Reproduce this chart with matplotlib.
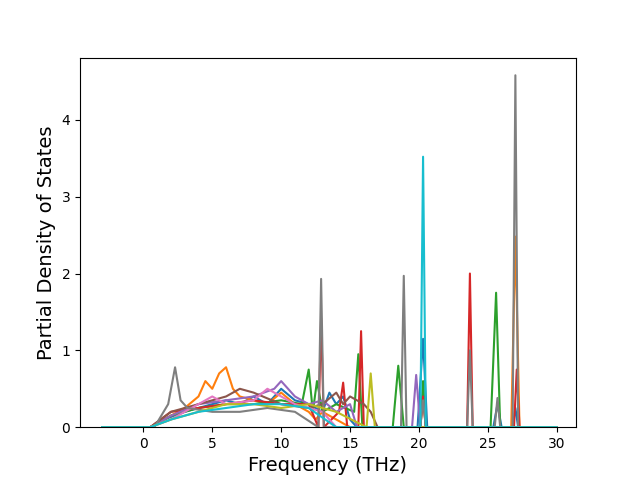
import matplotlib
matplotlib.use("Agg")
import matplotlib.pyplot as plt

# Each series: frequency points and PDOS values
s_blue_x = [-3, 0.5, 1.5, 3, 4, 5, 6, 7, 8, 9, 10, 11, 12, 13, 13.5, 14, 14.5, 15, 15.5, 19.9, 20.3, 20.6, 25.4, 25.7, 26.0, 26.8, 27.0, 27.2, 30]
s_blue_y = [0, 0, 0.1, 0.2, 0.25, 0.3, 0.35, 0.3, 0.4, 0.3, 0.5, 0.35, 0.3, 0.2, 0.45, 0.3, 0.4, 0.1, 0, 0, 1.15, 0, 0, 0.3, 0, 0, 0.25, 0, 0]
s_orange_x = [-3, 0.5, 1.5, 3, 4, 4.5, 5, 5.5, 6, 6.5, 7, 8, 9, 10, 11, 12, 12.5, 13, 15, 20.1, 20.3, 20.5, 26.7, 27.0, 27.3, 30]
s_orange_y = [0, 0, 0.1, 0.25, 0.4, 0.6, 0.5, 0.7, 0.78, 0.5, 0.4, 0.35, 0.3, 0.45, 0.3, 0.2, 0.1, 0.2, 0, 0, 0.4, 0, 0, 2.48, 0, 0]
s_green_x = [-3, 0.5, 2, 4, 6, 8, 10, 11.5, 12.0, 12.3, 12.6, 13, 14, 15.3, 15.6, 15.9, 18.1, 18.5, 18.9, 20.1, 20.3, 20.5, 25.2, 25.6, 25.9, 30]
s_green_y = [0, 0, 0.15, 0.25, 0.3, 0.3, 0.35, 0.3, 0.75, 0.2, 0.6, 0.2, 0.3, 0.2, 0.95, 0, 0, 0.8, 0, 0, 0.6, 0, 0, 1.75, 0, 0]
s_red_x = [-3, 0.5, 2, 4, 6, 8, 10, 12, 12.7, 12.9, 13.1, 14.2, 14.5, 14.8, 15.6, 15.8, 16.0, 20.1, 20.3, 20.5, 23.5, 23.7, 23.9, 26.9, 27.1, 27.3, 30]
s_red_y = [0, 0, 0.2, 0.25, 0.3, 0.35, 0.3, 0.3, 0, 1.42, 0, 0.2, 0.58, 0, 0, 1.25, 0, 0, 0.4, 0, 0, 2.0, 0, 0, 0.75, 0, 0]
s_purple_x = [-3, 0.5, 2, 4, 6, 8, 9.5, 10, 11, 12, 13, 14, 15, 15.5, 19.5, 19.8, 20.1, 30]
s_purple_y = [0, 0, 0.15, 0.3, 0.35, 0.4, 0.5, 0.6, 0.4, 0.3, 0.35, 0.2, 0.3, 0, 0, 0.68, 0, 0]
s_brown_x = [-3, 0.5, 2, 4, 6, 7, 8, 10, 12, 13, 14, 14.5, 15, 16, 16.5, 17, 30]
s_brown_y = [0, 0, 0.2, 0.3, 0.4, 0.5, 0.45, 0.3, 0.25, 0.3, 0.45, 0.3, 0.4, 0.3, 0.2, 0, 0]
s_pink_x = [-3, 0.5, 2, 4, 5, 6, 8, 9, 10, 11, 12, 13, 14, 30]
s_pink_y = [0, 0, 0.1, 0.3, 0.4, 0.3, 0.35, 0.5, 0.4, 0.3, 0.25, 0.2, 0, 0]
s_gray_x = [-3, 0.8, 1.3, 1.8, 2.3, 2.7, 3.2, 5, 7, 9, 11, 12.7, 12.9, 13.1, 18.7, 18.9, 19.1, 20.1, 20.3, 20.5, 23.5, 23.7, 23.9, 25.5, 25.7, 25.9, 26.8, 27.0, 27.2, 30]
s_gray_y = [0, 0, 0.15, 0.3, 0.78, 0.35, 0.25, 0.2, 0.2, 0.25, 0.2, 0, 1.93, 0, 0, 1.97, 0, 0, 0.35, 0, 0, 1.0, 0, 0, 0.38, 0, 0, 4.58, 0, 0]
s_olive_x = [-3, 0.5, 2, 4, 6, 8, 10, 12, 14, 16.2, 16.5, 16.8, 30]
s_olive_y = [0, 0, 0.1, 0.2, 0.3, 0.3, 0.25, 0.3, 0.2, 0, 0.7, 0, 0]
s_cyan_x = [-3, 0.5, 2, 4, 6, 8, 10, 12, 14, 20.1, 20.3, 20.5, 30]
s_cyan_y = [0, 0, 0.1, 0.2, 0.25, 0.3, 0.3, 0.25, 0, 0, 3.52, 0, 0]

series = [(s_blue_x, s_blue_y), (s_orange_x, s_orange_y), (s_green_x, s_green_y),
          (s_red_x, s_red_y), (s_purple_x, s_purple_y), (s_brown_x, s_brown_y),
          (s_pink_x, s_pink_y), (s_gray_x, s_gray_y), (s_olive_x, s_olive_y),
          (s_cyan_x, s_cyan_y)]

fig, ax = plt.subplots(figsize=(6.4, 4.8), dpi=100)
for x, y in series:
    ax.plot(x, y)
ax.set_xlim(-4.6, 31.4)
ax.set_ylim(0, 4.81)
ax.set_xlabel("Frequency (THz)", fontsize=14)
ax.set_ylabel("Partial Density of States", fontsize=14)
fig.savefig("out.png")
